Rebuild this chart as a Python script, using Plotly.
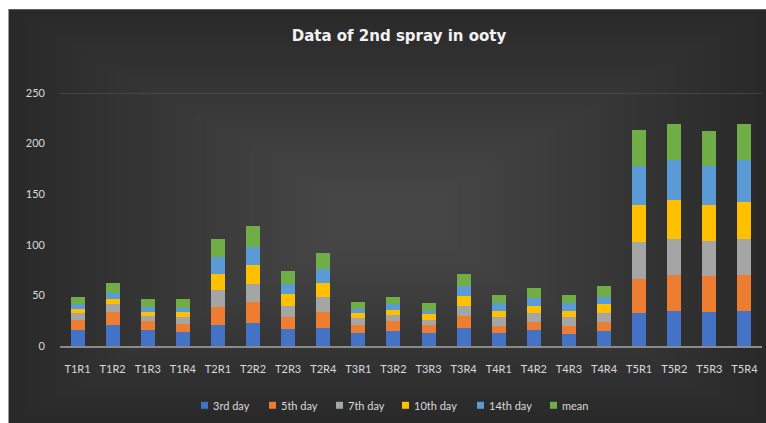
import plotly.graph_objects as go

categories = ["T1R1", "T1R2", "T1R3", "T1R4", "T2R1", "T2R2", "T2R3", "T2R4",
              "T3R1", "T3R2", "T3R3", "T3R4", "T4R1", "T4R2", "T4R3", "T4R4",
              "T5R1", "T5R2", "T5R3", "T5R4"]

day3 = [15.8, 20.4, 15.8, 14.2, 20.5, 23.1, 16.8, 18.2, 13.2, 14.5, 13.2, 18.2,
        13.2, 15.8, 11.9, 14.5, 32.3, 35.0, 33.6, 35.0]
day5 = [9.9, 12.8, 8.6, 7.9, 17.8, 20.4, 11.6, 15.1, 7.5, 9.9, 7.5, 11.5,
        6.5, 7.6, 7.9, 8.9, 34.3, 35.2, 35.6, 35.2]
day7 = [6.6, 7.9, 5.2, 6.2, 16.8, 17.8, 11.2, 15.1, 6.6, 6.6, 5.3, 9.9,
        8.6, 8.9, 8.6, 8.9, 35.9, 35.6, 34.3, 35.6]
day10 = [4.0, 4.9, 4.0, 5.2, 16.5, 19.2, 11.9, 14.2, 4.9, 4.9, 5.5, 10.3,
         6.6, 7.6, 6.6, 8.9, 36.6, 38.5, 35.6, 36.9]
day14 = [4.9, 6.2, 4.6, 3.6, 16.4, 17.8, 9.9, 13.8, 4.0, 5.2, 3.3, 9.2,
         7.2, 7.5, 7.5, 7.6, 39.2, 39.2, 39.2, 40.8]
mean = [7.6, 10.3, 7.9, 8.9, 17.8, 20.4, 12.8, 15.4, 7.6, 7.6, 7.5, 12.5,
        7.9, 10.3, 7.6, 10.2, 35.6, 35.6, 34.2, 35.6]

series_names = ["3rd day", "5th day", "7th day", "10th day", "14th day", "mean"]
series_values = [day3, day5, day7, day10, day14, mean]
series_colors = ["#4472C4", "#ED7D31", "#A5A5A5", "#FFC000", "#5B9BD5", "#70AD47"]
y_ticks = [0, 50, 100, 150, 200, 250]

W, H = 766, 423
L, R, T, B = 60, 4, 92.7, 423 - 345.7
pw, ph = W - L - R, H - T - B


def px(x):
    return (x - L) / pw


def py(y):
    return (H - B - y) / ph


fig = go.Figure()
for name, vals, col in zip(series_names, series_values, series_colors):
    fig.add_trace(go.Bar(x=categories, y=vals, name=name, showlegend=False,
                         marker=dict(color=col, line=dict(width=0))))

shapes = []
annotations = []
# dark background panel with a soft radial-ish gradient
shapes.append(dict(type="rect", xref="paper", yref="paper", layer="below",
                   x0=px(8), x1=px(W + 5), y0=py(9), y1=py(H + 5),
                   fillcolor="#282828", line=dict(width=0)))
n = 30
for i in range(n):
    f = i / n
    shapes.append(dict(type="rect", xref="paper", yref="paper", layer="below",
                       x0=px(8 + f * 330), x1=px(W - f * 330),
                       y0=py(9 + f * 185), y1=py(H - f * 185),
                       fillcolor="rgba(255,255,255,0.0068)", line=dict(width=0)))
# left border line
shapes.append(dict(type="line", xref="paper", yref="paper", layer="below",
                   x0=px(8.5), x1=px(8.5), y0=py(9), y1=py(H + 5),
                   line=dict(color="#9a9a9a", width=1)))
# top gridline at 250
shapes.append(dict(type="line", xref="paper", yref="y", layer="below",
                   x0=0, x1=1, y0=250, y1=250,
                   line=dict(color="#5a5a5a", width=1)))

# legend (compact, Excel-like)
legend_x = [201, 269, 336, 402, 477, 550]
legend_y = 405
for lx, name, col in zip(legend_x, series_names, series_colors):
    shapes.append(dict(type="rect", xref="paper", yref="paper",
                       x0=px(lx), x1=px(lx + 7), y0=py(legend_y + 3.5), y1=py(legend_y - 3.5),
                       fillcolor=col, line=dict(width=0)))
    annotations.append(dict(xref="paper", yref="paper", x=px(lx + 10), y=py(legend_y),
                            xanchor="left", yanchor="middle", showarrow=False,
                            text=name, font=dict(size=11, color="#d9d9d9")))

fig.update_layout(
    width=W, height=H,
    margin=dict(l=L, r=R, t=T, b=B),
    paper_bgcolor="white",
    plot_bgcolor="rgba(0,0,0,0)",
    barmode="stack",
    bargap=0.6,
    font=dict(family="Lato, Open Sans, sans-serif", color="#d9d9d9", size=11),
    title=dict(text="<b>Data of 2nd spray in ooty</b>", x=399 / W, xanchor="center",
               y=1 - 36 / H, yanchor="middle",
               font=dict(family="DejaVu Sans, sans-serif", size=15, color="#f2f2f2")),
    xaxis=dict(showgrid=False, showline=True, linecolor="#8a8a8a", linewidth=2,
               ticks="", ticklabelstandoff=12,
               tickfont=dict(size=11, color="#d9d9d9"), fixedrange=True),
    yaxis=dict(range=[0, 250], tickvals=y_ticks, showgrid=False, zeroline=False,
               showline=False, ticks="", ticklabelstandoff=14,
               tickfont=dict(size=11, color="#d9d9d9")),
    shapes=shapes,
    annotations=annotations,
    showlegend=False,
)

fig.write_html("out.html", config={"displayModeBar": False},
               post_script="document.body.style.margin='0';document.body.style.overflow='hidden';")
